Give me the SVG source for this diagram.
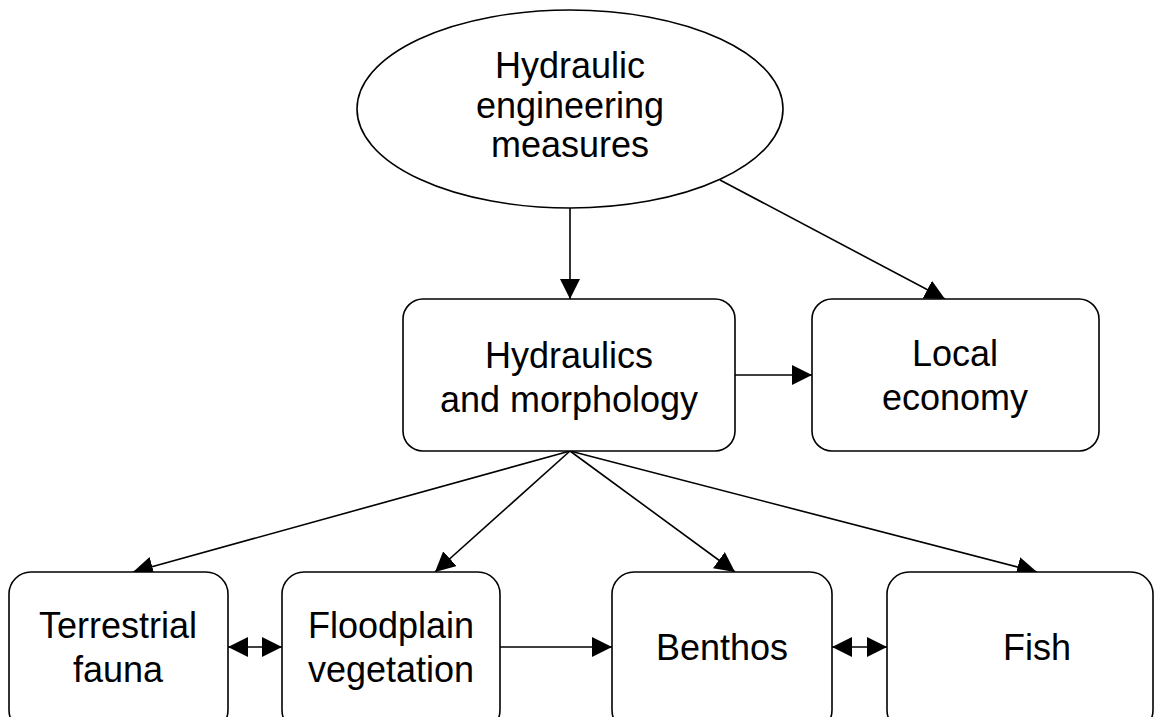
<svg xmlns="http://www.w3.org/2000/svg" width="1154" height="717" viewBox="0 0 1154 717">
  <style>
    .shape { fill: #ffffff; stroke: #000000; stroke-width: 1.6; }
    .label { font-family: "Liberation Sans", Arial, sans-serif; font-size: 36px; fill: #000000; text-anchor: middle; }
    .link { fill: none; stroke: #000000; stroke-width: 1.6; }
  </style>
  <defs>
    <marker id="head" markerUnits="userSpaceOnUse" markerWidth="20" markerHeight="20" refX="20" refY="10" orient="auto-start-reverse" viewBox="0 0 20 20">
      <path d="M0,0 L20,10 L0,20 Z" fill="#000000"/>
    </marker>
  </defs>
  <rect width="1154" height="717" fill="#ffffff"/>

  <g id="connectors">
    <line class="link" x1="570" y1="208" x2="570" y2="299" marker-end="url(#head)"/>
    <line class="link" x1="720" y1="180" x2="945" y2="299" marker-end="url(#head)"/>
    <line class="link" x1="735" y1="375" x2="812" y2="375" marker-end="url(#head)"/>
    <line class="link" x1="570" y1="451" x2="133" y2="572" marker-end="url(#head)"/>
    <line class="link" x1="570" y1="451" x2="435" y2="572" marker-end="url(#head)"/>
    <line class="link" x1="570" y1="451" x2="735" y2="572" marker-end="url(#head)"/>
    <line class="link" x1="570" y1="451" x2="1037" y2="572" marker-end="url(#head)"/>
    <line class="link" x1="228" y1="647" x2="282" y2="647" marker-start="url(#head)" marker-end="url(#head)"/>
    <line class="link" x1="500" y1="647" x2="612" y2="647" marker-end="url(#head)"/>
    <line class="link" x1="832" y1="647" x2="887" y2="647" marker-start="url(#head)" marker-end="url(#head)"/>
  </g>

  <g id="measures">
    <ellipse class="shape" cx="570" cy="109" rx="213" ry="99"/>
    <text class="label" x="570" y="78">Hydraulic</text>
    <text class="label" x="570" y="118">engineering</text>
    <text class="label" x="570" y="157">measures</text>
  </g>

  <g id="hydraulics">
    <rect class="shape" x="403" y="299" width="332" height="152" rx="20" ry="20"/>
    <text class="label" x="569" y="368">Hydraulics</text>
    <text class="label" x="569" y="412">and morphology</text>
  </g>

  <g id="economy">
    <rect class="shape" x="812" y="299" width="287" height="152" rx="20" ry="20"/>
    <text class="label" x="955" y="366">Local</text>
    <text class="label" x="955" y="410">economy</text>
  </g>

  <g id="fauna">
    <rect class="shape" x="9" y="572" width="219" height="160" rx="22" ry="22"/>
    <text class="label" x="118" y="638">Terrestrial</text>
    <text class="label" x="118" y="682">fauna</text>
  </g>

  <g id="vegetation">
    <rect class="shape" x="282" y="572" width="218" height="160" rx="22" ry="22"/>
    <text class="label" x="391" y="638">Floodplain</text>
    <text class="label" x="391" y="682">vegetation</text>
  </g>

  <g id="benthos">
    <rect class="shape" x="612" y="572" width="220" height="160" rx="22" ry="22"/>
    <text class="label" x="722" y="660">Benthos</text>
  </g>

  <g id="fish">
    <rect class="shape" x="887" y="572" width="266" height="160" rx="22" ry="22"/>
    <text class="label" x="1037" y="660">Fish</text>
  </g>
</svg>
